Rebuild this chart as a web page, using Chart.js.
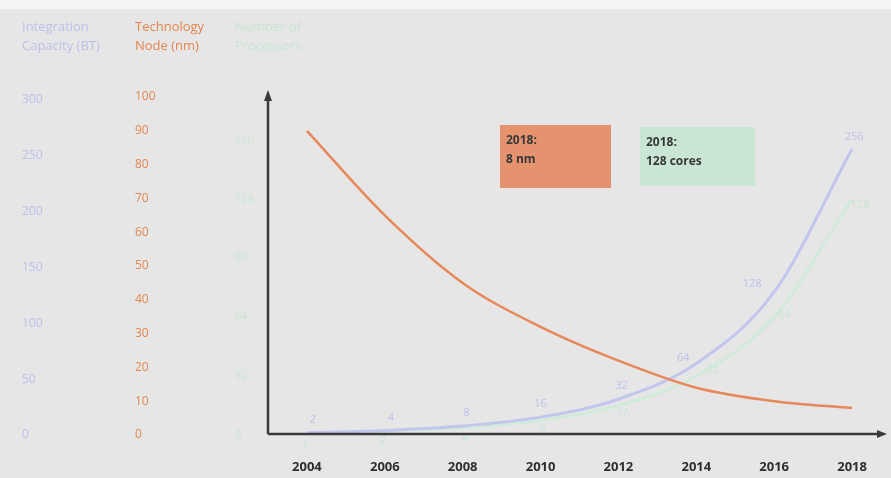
<!DOCTYPE html>
<html>
<head>
<meta charset="utf-8">
<script src="https://cdn.jsdelivr.net/npm/chart.js@4.4.1/dist/chart.umd.min.js"></script>
<style>
  html, body { margin: 0; padding: 0; background: #e6e6e6; }
  #wrap { width: 891px; height: 478px; position: relative; }
</style>
</head>
<body>
<div id="wrap"><canvas id="chart" width="891" height="478"></canvas></div>
<script>
// ---------- Data ----------
const years = ["2004", "2006", "2008", "2010", "2012", "2014", "2016", "2018"];
const capacityBT = [2, 4, 8, 16, 32, 64, 128, 256];   // Integration Capacity (BT)
const nodeNm = [90, 65, 45, 32, 22, 14, 10, 8];        // Technology Node (nm)
const cores = [1, 2, 4, 8, 16, 32, 64, 128];           // Number of Processors

const capacityTicks = [0, 50, 100, 150, 200, 250, 300];
const nodeTicks = [0, 10, 20, 30, 40, 50, 60, 70, 80, 90, 100];
const coresTicks = [0, 32, 64, 96, 128, 160];

// value label nudges (px) so labels sit like the original slide
const capLabelDx = [6, 6, 4, 0, 3, -13, -22, 2];
const capLabelDy = [-13, -13, -13, -13, -13, -6, -8, -12];
const coreLabelDx = [-2, -2, 2, 2, 5, 16, 10, 8];
const coreLabelDy = [14, 10, 10, 11, 8, -6, -2, 6];

// ---------- Colours ----------
const C = {
  blue: "#c2c6ee",
  blueText: "#bcc1ea",
  orange: "#e8875a",
  orangeText: "#e3864f",
  green: "#d0ebd9",
  greenText: "#c6e6d1",
  axis: "#3a3a3a",
  text: "#2e2e2e",
};
const FONT = "'Open Sans', 'Noto Sans', sans-serif";

// use the exact tick list for a scale
function fixedTicks(list) {
  return (scale) => {
    scale.ticks = list.map((v) => ({ value: v }));
  };
}

// ---------- Plugins ----------
const slideBits = {
  id: "slideBits",
  beforeDraw(chart) {
    const { ctx, width, height } = chart;
    ctx.save();
    ctx.fillStyle = "#e6e6e6";
    ctx.fillRect(0, 0, width, height);
    ctx.fillStyle = "#f5f5f5";
    ctx.fillRect(0, 0, width, 9);
    ctx.restore();
  },
  afterDatasetsDraw(chart) {
    const { ctx, chartArea } = chart;
    ctx.save();

    // value labels
    ctx.font = "11px " + FONT;
    ctx.textAlign = "center";
    ctx.textBaseline = "middle";
    const capMeta = chart.getDatasetMeta(1);
    capMeta.data.forEach((pt, i) => {
      ctx.fillStyle = C.blueText;
      ctx.fillText(String(capacityBT[i]), pt.x + capLabelDx[i], pt.y + capLabelDy[i]);
    });
    const coreMeta = chart.getDatasetMeta(2);
    coreMeta.data.forEach((pt, i) => {
      ctx.fillStyle = C.greenText;
      ctx.fillText(String(cores[i]), pt.x + coreLabelDx[i], pt.y + coreLabelDy[i]);
    });

    // axes with arrow heads
    const x0 = chartArea.left;
    const y0 = chartArea.bottom - 1;
    ctx.strokeStyle = C.axis;
    ctx.fillStyle = C.axis;
    ctx.lineWidth = 2.5;
    ctx.beginPath();
    ctx.moveTo(x0, y0);
    ctx.lineTo(x0, chartArea.top + 6);
    ctx.moveTo(x0, y0);
    ctx.lineTo(chartArea.right - 8, y0);
    ctx.stroke();
    ctx.beginPath();
    ctx.moveTo(x0, chartArea.top - 2);
    ctx.lineTo(x0 - 4, chartArea.top + 9);
    ctx.lineTo(x0 + 4, chartArea.top + 9);
    ctx.closePath();
    ctx.fill();
    ctx.beginPath();
    ctx.moveTo(chartArea.right - 4, y0);
    ctx.lineTo(chartArea.right - 14, y0 - 4);
    ctx.lineTo(chartArea.right - 14, y0 + 4);
    ctx.closePath();
    ctx.fill();

    // call-out boxes
    const boxes = [
      { x: 500, y: 125, w: 111, h: 63, fill: "#e5936e", lines: ["2018:", "8 nm"] },
      { x: 640, y: 127, w: 115, h: 59, fill: "#c8e6d3", lines: ["2018:", "128 cores"] },
    ];
    boxes.forEach((b) => {
      ctx.fillStyle = b.fill;
      ctx.fillRect(b.x, b.y, b.w, b.h);
      ctx.fillStyle = "#383838";
      ctx.font = "bold 12px " + FONT;
      ctx.textAlign = "left";
      ctx.textBaseline = "middle";
      b.lines.forEach((t, k) => ctx.fillText(t, b.x + 6, b.y + 16 + k * 19));
    });

    // axis titles above the tick columns
    const titles = [
      { scale: "yCap", color: C.blueText, lines: ["Integration", "Capacity (BT)"] },
      { scale: "yNode", color: C.orangeText, lines: ["Technology", "Node (nm)"] },
      { scale: "yCores", color: C.greenText, lines: ["Number of", "Processors"] },
    ];
    ctx.font = "13px " + FONT;
    ctx.textAlign = "left";
    titles.forEach((t) => {
      const s = chart.scales[t.scale];
      ctx.fillStyle = t.color;
      t.lines.forEach((line, k) => ctx.fillText(line, s.left, 27 + k * 19));
    });

    ctx.restore();
  },
};

// ---------- Chart ----------
new Chart(document.getElementById("chart"), {
  type: "line",
  data: {
    labels: years,
    datasets: [
      {
        label: "Technology Node (nm)",
        data: nodeNm,
        yAxisID: "yNode",
        borderColor: C.orange,
        borderWidth: 2.5,
        pointRadius: 0,
        cubicInterpolationMode: "monotone",
      },
      {
        label: "Integration Capacity (BT)",
        data: capacityBT,
        yAxisID: "yCap",
        borderColor: C.blue,
        borderWidth: 3,
        pointRadius: 0,
        cubicInterpolationMode: "monotone",
      },
      {
        label: "Number of Processors",
        data: cores,
        yAxisID: "yCores",
        borderColor: C.green,
        borderWidth: 3,
        pointRadius: 0,
        cubicInterpolationMode: "monotone",
      },
    ],
  },
  options: {
    responsive: false,
    animation: false,
    layout: { padding: { top: 92, left: 22, right: 0, bottom: 0 } },
    plugins: { legend: { display: false }, tooltip: { enabled: false } },
    scales: {
      x: {
        offset: true,
        grid: { display: false, drawTicks: false },
        border: { display: false },
        ticks: { color: C.text, font: { family: FONT, size: 13, weight: "bold" }, padding: 24 },
        afterFit: (s) => { s.height = 43; },
      },
      yCap: {
        position: "left",
        weight: 3,
        min: 0,
        max: 307,
        grid: { display: false, drawTicks: false },
        border: { display: false },
        ticks: { crossAlign: "far", color: C.blueText, font: { family: FONT, size: 12 } },
        afterBuildTicks: fixedTicks(capacityTicks),
        afterFit: (s) => { s.width = 113; },
      },
      yNode: {
        position: "left",
        weight: 2,
        min: 0,
        max: 101.5,
        grid: { display: false, drawTicks: false },
        border: { display: false },
        ticks: { crossAlign: "far", color: C.orangeText, font: { family: FONT, size: 12 } },
        afterBuildTicks: fixedTicks(nodeTicks),
        afterFit: (s) => { s.width = 100; },
      },
      yCores: {
        position: "left",
        weight: 1,
        min: 0,
        max: 186,
        grid: { display: false, drawTicks: false },
        border: { display: false },
        ticks: { crossAlign: "far", color: C.greenText, font: { family: FONT, size: 11 } },
        afterBuildTicks: fixedTicks(coresTicks),
        afterFit: (s) => { s.width = 33; },
      },
    },
  },
  plugins: [slideBits],
});
</script>
</body>
</html>
